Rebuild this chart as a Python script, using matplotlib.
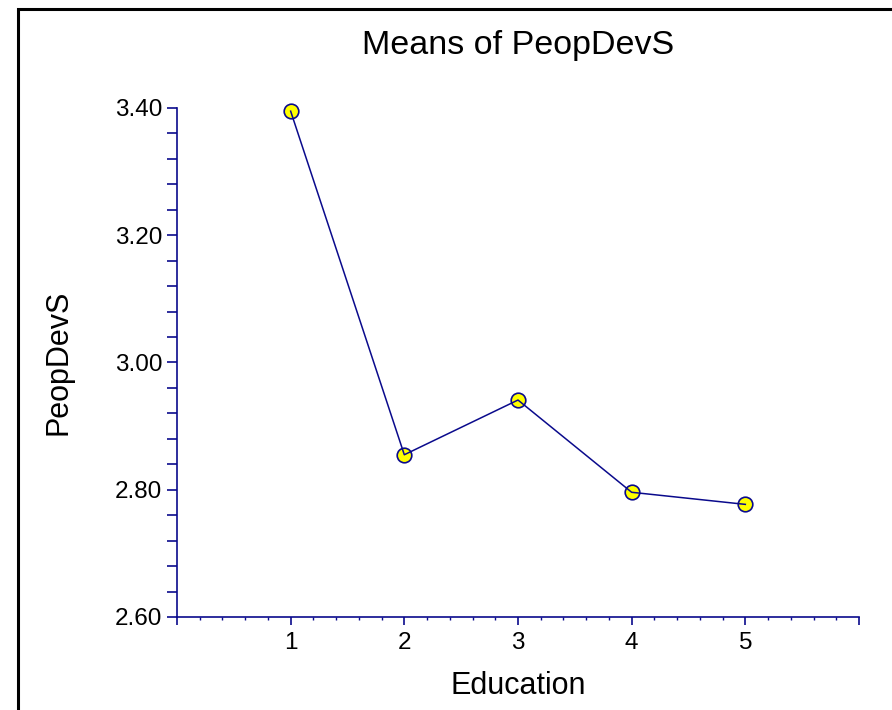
import matplotlib

matplotlib.use("Agg")
import matplotlib.pyplot as plt
from matplotlib.patches import Rectangle
from matplotlib.ticker import MultipleLocator, FormatStrFormatter

plt.rcParams["font.family"] = ["Liberation Sans", "DejaVu Sans"]

education = [1, 2, 3, 4, 5]
peop_dev_s = [3.395, 2.855, 2.941, 2.796, 2.777]
x_tick_labels = ["", "1", "2", "3", "4", "5", ""]

NAVY = "#0a0a8c"

fig = plt.figure(figsize=(8.92, 7.10), dpi=100)
ax = fig.add_axes([0.1984, 0.1310, 0.7646, 0.7169])

# markers underneath, connecting line on top
ax.plot(education, peop_dev_s, linestyle="none", marker="o", markersize=10.5,
        markerfacecolor="#ffff00", markeredgecolor=NAVY, markeredgewidth=1.2,
        zorder=2, clip_on=False)
ax.plot(education, peop_dev_s, color=NAVY, linewidth=1.1, zorder=3, clip_on=False)

ax.set_xlim(0, 6)
ax.set_ylim(2.6, 3.4)
ax.set_xticks(range(0, 7))
ax.set_xticklabels(x_tick_labels)
ax.xaxis.set_minor_locator(MultipleLocator(0.2))
ax.yaxis.set_major_locator(MultipleLocator(0.2))
ax.yaxis.set_minor_locator(MultipleLocator(0.04))
ax.yaxis.set_major_formatter(FormatStrFormatter("%.2f"))

for side in ("top", "right"):
    ax.spines[side].set_visible(False)
for side in ("left", "bottom"):
    ax.spines[side].set_color(NAVY)
    ax.spines[side].set_linewidth(1.2)

ax.tick_params(axis="y", which="both", direction="out", length=7.5, width=1.2,
               color=NAVY, labelsize=17.5, pad=3)
ax.tick_params(axis="x", which="major", direction="out", length=6, width=1.2,
               color=NAVY, labelsize=17.5, pad=5)
ax.tick_params(axis="x", which="minor", direction="out", length=2.5, width=1.0, color=NAVY)

ax.set_title("Means of PeopDevS", fontsize=24.5, pad=39)
ax.set_xlabel("Education", fontsize=22)
ax.xaxis.set_label_coords(0.5, -0.106)
ax.set_ylabel("PeopDevS", fontsize=22)
ax.yaxis.set_label_coords(-0.152, 0.5)

# outer frame running off the right and bottom edges
fig.patches.append(Rectangle((18 / 892, -0.05), 1.2, 1 - 9 / 710 + 0.05,
                             transform=fig.transFigure, fill=False,
                             edgecolor="black", linewidth=2.2))

fig.savefig("out.png", dpi=100)
